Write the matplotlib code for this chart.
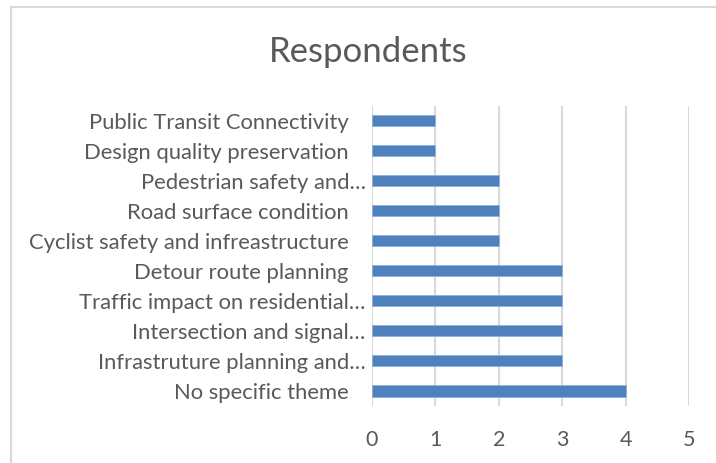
import matplotlib
matplotlib.use("Agg")
import matplotlib.pyplot as plt
from matplotlib.patches import Rectangle
from matplotlib.transforms import ScaledTranslation

categories = [
    "No specific theme",
    "Infrastruture planning and\u2026",
    "Intersection and signal\u2026",
    "Traffic impact on residential\u2026",
    "Detour route planning",
    "Cyclist safety and infreastructure",
    "Road surface condition",
    "Pedestrian safety and\u2026",
    "Design quality preservation",
    "Public Transit Connectivity",
]
values = [4, 3, 3, 3, 3, 2, 2, 2, 1, 1]
xticks = [0, 1, 2, 3, 4, 5]
title = "Respondents"

plt.rcParams['font.family'] = ['Lato', 'DejaVu Sans']
W, H = 716, 463
fig = plt.figure(figsize=(W / 100, H / 100), dpi=100)
fig.patch.set_facecolor("white")

# chart border
fig.add_artist(Rectangle((10.5 / W, -0.1), 1.2, (H - 6.5) / H + 0.1,
                         transform=fig.transFigure, fill=False,
                         edgecolor="#D9D9D9", linewidth=1.5))

ax = fig.add_axes([372 / W, 1 - 406 / H, (689 - 372) / W, (406 - 105.5) / H])
ypos = list(range(len(categories)))
ax.barh(ypos, values, height=0.37, color="#4F81BD", edgecolor="#8EB0DA",
        linewidth=0.6, zorder=3)
ax.set_xlim(0, 5)
ax.set_ylim(-0.5, len(categories) - 0.5)
ax.set_xticks(xticks)
ax.set_xticklabels([str(t) for t in xticks])
ax.set_yticks(ypos)
ax.set_yticklabels(categories)
ax.grid(axis="x", color="#D9D9D9", linewidth=1.5, zorder=0)
for s in ax.spines.values():
    s.set_visible(False)
ax.tick_params(axis="both", length=0, colors="#595959")
ax.tick_params(axis="x", labelsize=15.5, pad=17)
ax.tick_params(axis="y", labelsize=15.8, pad=4.5)

# full (non-truncated) labels sit a bit further left, like in the original
shift = ScaledTranslation(-17 / 100, 0, fig.dpi_scale_trans)
for lbl in ax.get_yticklabels():
    if not lbl.get_text().endswith("\u2026"):
        lbl.set_transform(lbl.get_transform() + shift)

fig.text(368 / W, 1 - 52 / H, title, ha="center", va="center",
         fontsize=25, color="#595959")

fig.savefig("out.png", dpi=100)
